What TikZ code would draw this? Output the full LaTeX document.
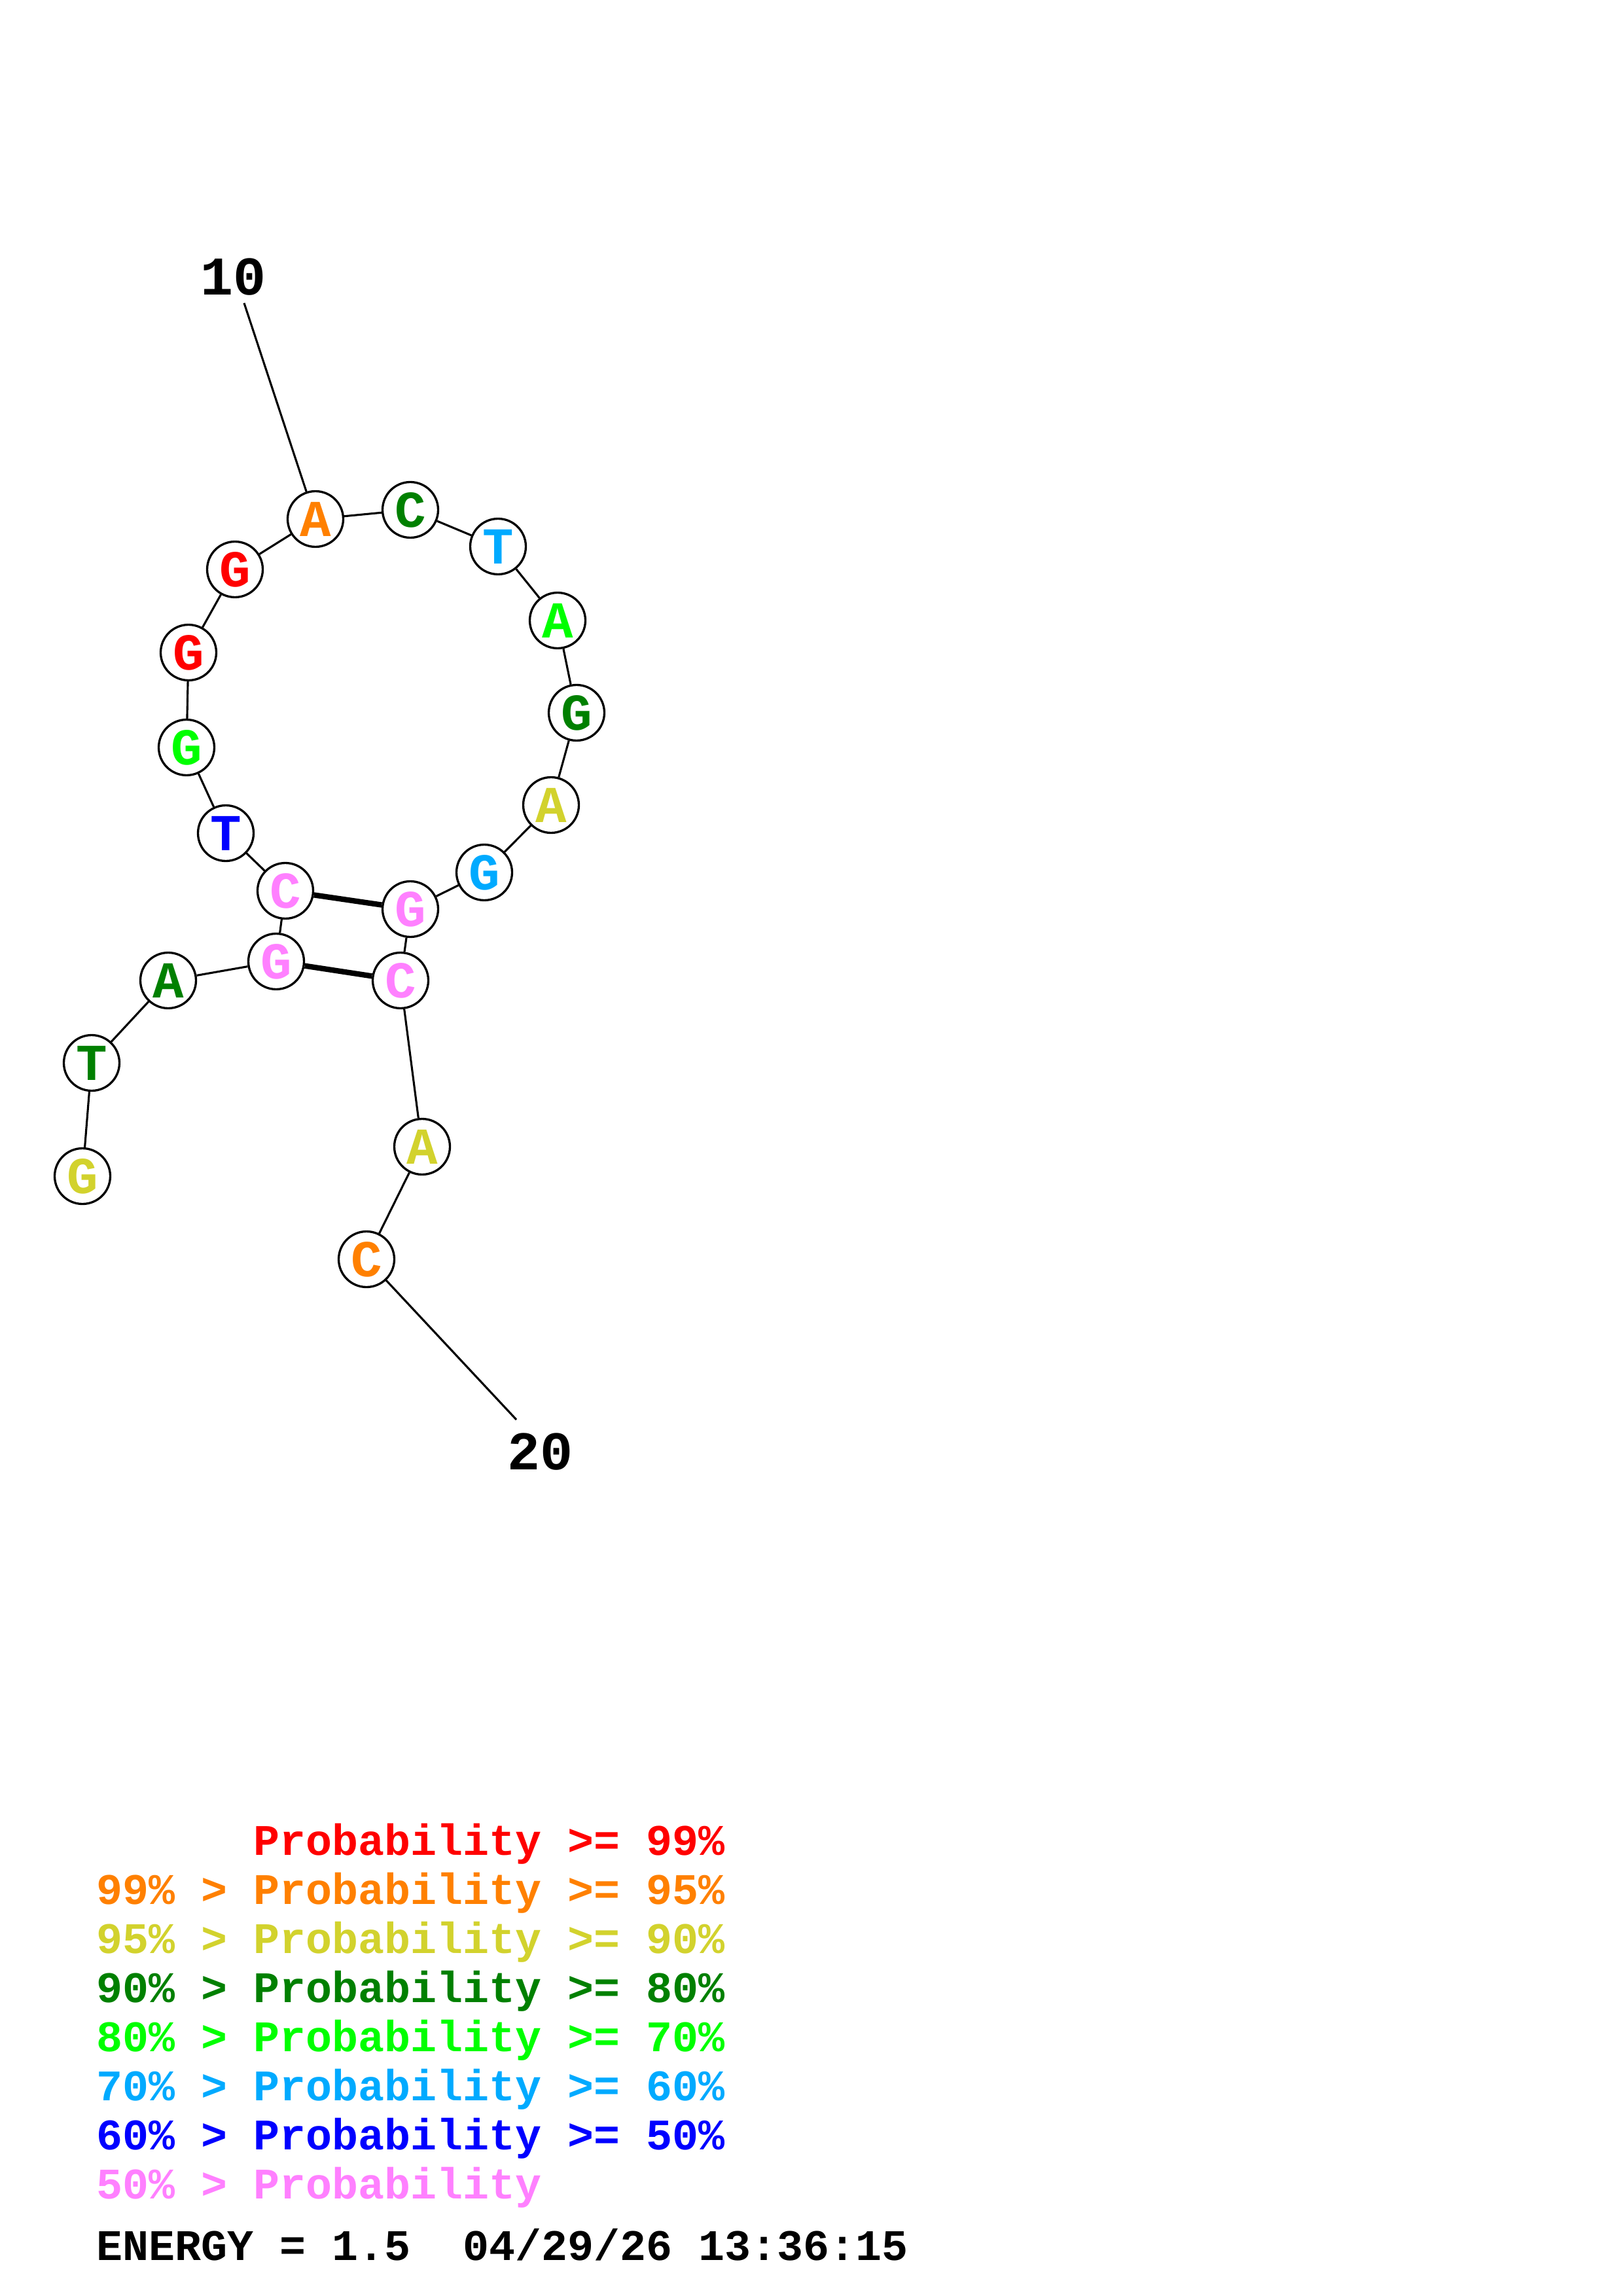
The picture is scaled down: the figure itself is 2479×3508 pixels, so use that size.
\documentclass[tikz,border=0pt]{standalone}
\usepackage{fontspec}
\setmonofont{Liberation Mono}
\newfontfamily\basefont[Scale=1]{Liberation Mono}
\definecolor{cRed}{RGB}{255,0,0}
\definecolor{cOrange}{RGB}{255,128,0}
\definecolor{cYellow}{RGB}{210,210,45}
\definecolor{cDkGreen}{RGB}{0,128,0}
\definecolor{cGreen}{RGB}{0,255,0}
\definecolor{cLtBlue}{RGB}{0,170,255}
\definecolor{cBlue}{RGB}{0,0,255}
\definecolor{cPink}{RGB}{255,128,255}
\begin{document}
\begin{tikzpicture}[x=0.24pt,y=-0.24pt,
  base/.style={circle,draw=black,line width=0.8pt,fill=white,minimum size=20.4pt,inner sep=0pt,font=\basefont\bfseries\fontsize{19}{19}\selectfont},
  backbone/.style={line width=0.75pt,black},
  pairline/.style={line width=2pt,black},
  numlabel/.style={font=\basefont\bfseries\fontsize{20}{20}\selectfont,inner sep=0pt},
  legend/.style={anchor=base west,inner sep=0pt,font=\basefont\bfseries\fontsize{16}{16}\selectfont}]
\useasboundingbox (0,0) rectangle (2479,3508);
\fill[white] (0,0) rectangle (2479,3508);
\coordinate (l10) at (373,463);
\coordinate (l20) at (789,2169);
\node[base,text=cYellow]  (n1)  at (126,1797) {G};
\node[base,text=cDkGreen] (n2)  at (140,1624) {T};
\node[base,text=cDkGreen] (n3)  at (257,1498) {A};
\node[base,text=cPink]    (n4)  at (422,1469) {G};
\node[base,text=cPink]    (n5)  at (436,1361) {C};
\node[base,text=cBlue]    (n6)  at (345,1273) {T};
\node[base,text=cGreen]   (n7)  at (285,1142) {G};
\node[base,text=cRed]     (n8)  at (288,997)  {G};
\node[base,text=cRed]     (n9)  at (359,870)  {G};
\node[base,text=cOrange]  (n10) at (482,793)  {A};
\node[base,text=cDkGreen] (n11) at (627,779)  {C};
\node[base,text=cLtBlue]  (n12) at (761,835)  {T};
\node[base,text=cGreen]   (n13) at (852,948)  {A};
\node[base,text=cDkGreen] (n14) at (881,1089) {G};
\node[base,text=cYellow]  (n15) at (842,1230) {A};
\node[base,text=cLtBlue]  (n16) at (740,1333) {G};
\node[base,text=cPink]    (n17) at (627,1389) {G};
\node[base,text=cPink]    (n18) at (612,1498) {C};
\node[base,text=cYellow]  (n19) at (645,1752) {A};
\node[base,text=cOrange]  (n20) at (560,1924) {C};
\foreach \a/\b in {n1/n2,n2/n3,n3/n4,n4/n5,n5/n6,n6/n7,n7/n8,n8/n9,n9/n10,n10/n11,n11/n12,n12/n13,n13/n14,n14/n15,n15/n16,n16/n17,n17/n18,n18/n19,n19/n20}
  \draw[backbone] (\a) -- (\b);
\draw[pairline] (n5) -- (n17);
\draw[pairline] (n4) -- (n18);
\draw[backbone] (l10) -- (n10);
\draw[backbone] (l20) -- (n20);
\node[numlabel] (t10) at (357,423) {10};
\node[numlabel] (t20) at (825,2218) {20};
% legend
\node[legend,text=cRed]     (g1) at (147,2834) {\phantom{99\% > }Probability >= 99\%};
\node[legend,text=cOrange]  (g2) at (147,2909) {99\% > Probability >= 95\%};
\node[legend,text=cYellow]  (g3) at (147,2984) {95\% > Probability >= 90\%};
\node[legend,text=cDkGreen] (g4) at (147,3059) {90\% > Probability >= 80\%};
\node[legend,text=cGreen]   (g5) at (147,3134) {80\% > Probability >= 70\%};
\node[legend,text=cLtBlue]  (g6) at (147,3209) {70\% > Probability >= 60\%};
\node[legend,text=cBlue]    (g7) at (147,3284) {60\% > Probability >= 50\%};
\node[legend,text=cPink]    (g8) at (147,3359) {50\% > Probability};
\node[legend,text=black]    (g9) at (147,3453) {ENERGY = 1.5\ \ 04/29/26 13:36:15};
\end{tikzpicture}
\end{document}
